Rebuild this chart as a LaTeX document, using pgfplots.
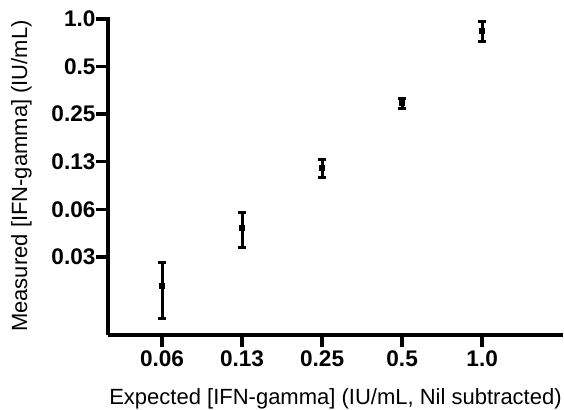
\documentclass[border=0pt]{standalone}
\usepackage{pgfplots}
\pgfplotsset{compat=1.18}
\usepackage{fontspec}
\setmainfont{Liberation Sans}

\pgfplotstableread{
x y ep em
0 0.0205 0.0081 0.0078
1 0.0477 0.0116 0.0121
2 0.114 0.016 0.014
3 0.294 0.022 0.024
4 0.839 0.132 0.113
}\ifndata

\begin{document}
\begin{tikzpicture}
\begin{axis}[
  scale only axis,
  width=455pt, height=318pt,
  xmin=-0.675, xmax=5.01,
  ymode=log, log basis y=2,
  ymin=0.01, ymax=1.03,
  axis x line=bottom, axis y line=left,
  axis line style={-, line width=3.5pt},
  xtick={0,...,4}, xticklabels={0.06,0.13,0.25,0.5,1.0},
  ytick={0.03125,0.0625,0.125,0.25,0.5,1},
  yticklabels={0.03,0.06,0.13,0.25,0.5,1.0},
  minor ytick={},
  tick style={line width=3.5pt, black},
  major tick length=12pt,
  tick align=outside,
  xticklabel style={font=\fontsize{22.6}{26}\selectfont\bfseries},
  yticklabel style={font=\fontsize{22.6}{26}\selectfont\bfseries, xshift=3pt},
  xlabel style={font=\fontsize{22}{26}\selectfont,
    at={(axis description cs:0.5,-0.220)}, anchor=base},
  ylabel style={font=\fontsize{22}{26}\selectfont,
    at={(axis description cs:-0.167,0.5)}, anchor=south, inner sep=0pt},
  xlabel={Expected [IFN-gamma] (IU/mL, Nil subtracted)},
  ylabel={Measured [IFN-gamma] (IU/mL)},
  clip=false,
]
\addplot[black, only marks, mark=square*, mark size=2.5pt,
  error bars/.cd, y dir=both, y explicit,
  error bar style={line width=3pt},
  error mark options={rotate=90, mark size=4pt, line width=3pt}]
  table[x=x, y=y, y error plus=ep, y error minus=em] {\ifndata};
\coordinate (sw) at (rel axis cs:0,0);
\coordinate (ne) at (rel axis cs:1,1);
\end{axis}
\pgfresetboundingbox
\path[use as bounding box] ([xshift=-108pt,yshift=-74pt]sw) rectangle ([xshift=1pt,yshift=17pt]ne);
\end{tikzpicture}
\end{document}
